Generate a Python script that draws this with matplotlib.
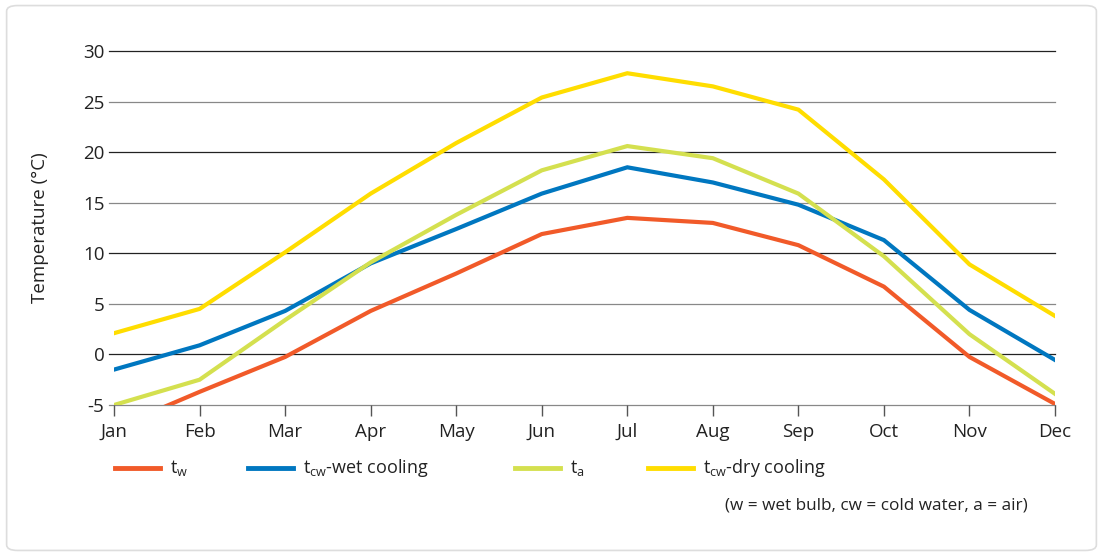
import matplotlib.pyplot as plt
from matplotlib.lines import Line2D
from matplotlib.patches import FancyBboxPatch

plt.rcParams['font.family'] = ['Open Sans', 'DejaVu Sans']

months = ['Jan', 'Feb', 'Mar', 'Apr', 'May', 'Jun',
          'Jul', 'Aug', 'Sep', 'Oct', 'Nov', 'Dec']
t_w = [-7.3, -3.7, -0.25, 4.3, 8.0, 11.9, 13.5, 13.0, 10.8, 6.7, -0.25, -4.9]
t_cw_wet = [-1.5, 0.9, 4.3, 9.0, 12.4, 15.9, 18.5, 17.0, 14.8, 11.3, 4.4, -0.55]
t_a = [-5.0, -2.5, 3.4, 9.1, 13.8, 18.2, 20.6, 19.4, 15.9, 9.7, 2.0, -3.9]
t_cw_dry = [2.1, 4.5, 10.1, 15.9, 20.9, 25.4, 27.8, 26.5, 24.2, 17.3, 8.9, 3.8]

labels = [r't$_\mathregular{w}$', r't$_\mathregular{cw}$-wet cooling',
          r't$_\mathregular{a}$', r't$_\mathregular{cw}$-dry cooling']
colors = ['#f15a29', '#0077c0', '#d4e04f', '#ffdd00']
series = [t_w, t_cw_wet, t_a, t_cw_dry]

fig = plt.figure(figsize=(11.03, 5.56), dpi=100)
frame = FancyBboxPatch((0.006, 0.01), 0.988, 0.98,
                       boxstyle='round,pad=0,rounding_size=0.01',
                       transform=fig.transFigure, fc='white',
                       ec='#dddddd', lw=1.2, zorder=-10)
fig.patches.append(frame)
ax = fig.add_axes([0.1034, 0.2716, 0.8531, 0.6367])
ax.patch.set_alpha(0)

x = list(range(len(months)))
for y, c in zip(series, colors):
    ax.plot(x, y, color=c, lw=3, solid_joinstyle='miter', zorder=3)

ax.set_xlim(0, 11)
ax.set_ylim(-5, 30)
yt = list(range(-5, 31, 5))
ax.set_yticks(yt)
ax.set_yticklabels([str(v) for v in yt])
for v in yt:
    ax.axhline(v, xmin=-0.005, xmax=1, color='#222222' if v % 10 == 0 else '#888888',
               lw=0.9, zorder=1, clip_on=False)
ax.set_xticks(x)
ax.set_xticklabels(months)
for s in ax.spines.values():
    s.set_visible(False)
ax.tick_params(axis='y', length=0, pad=7, labelsize=13.5, labelcolor='#222222')
ax.tick_params(axis='x', length=8, color='#555555', width=1, pad=5,
               labelsize=13.5, labelcolor='#222222')
ax.set_ylabel('Temperature (°C)', fontsize=13.5, color='#222222', labelpad=24)

# legend below the plot
W, H = 1103, 556
legend_x = [115, 248, 515, 648]
ly = 1 - 468 / H
for lx, c, lab in zip(legend_x, colors, labels):
    fig.add_artist(Line2D([lx / W, (lx + 45) / W], [ly, ly], color=c, lw=3.5,
                          transform=fig.transFigure))
    fig.text((lx + 55) / W, ly, lab, fontsize=13, color='#222222',
             va='center', ha='left')
fig.text(1028 / W, 1 - 505 / H, '(w = wet bulb, cw = cold water, a = air)',
         fontsize=12.3, color='#222222', ha='right', va='center')

fig.savefig('out.png', dpi=100)
